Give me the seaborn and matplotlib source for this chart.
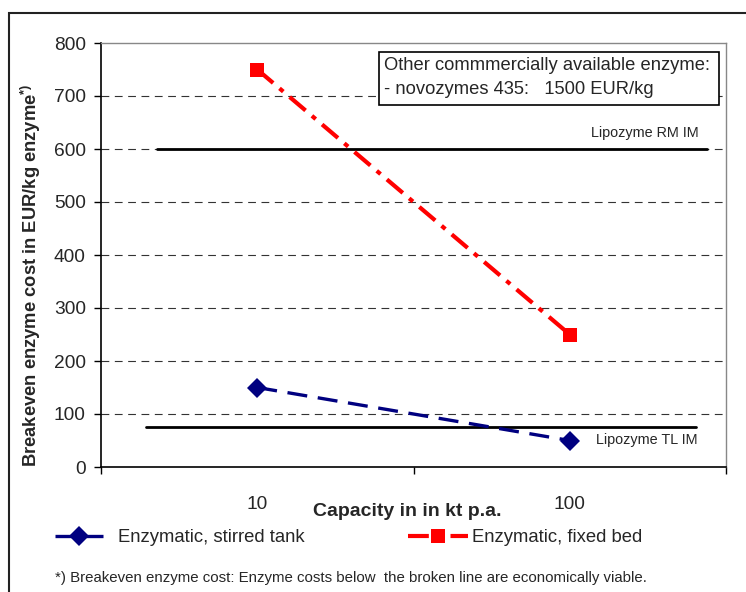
import matplotlib
matplotlib.use("Agg")
import matplotlib.pyplot as plt
import seaborn as sns
import pandas as pd
import numpy as np
from matplotlib.lines import Line2D
from matplotlib.patches import Rectangle

sns.set_theme(style="white")
plt.rcParams['font.family'] = ['Liberation Sans', 'DejaVu Sans']
plt.rcParams['mathtext.fontset'] = 'custom'
plt.rcParams['mathtext.rm'] = 'Liberation Sans'
plt.rcParams['mathtext.bf'] = 'Liberation Sans:bold'

# ---- data ----
categories = ["10", "100"]
stirred_tank = [150, 50]
fixed_bed = [750, 250]
lipozyme_rm = 600
lipozyme_tl = 75
yticks = [0, 100, 200, 300, 400, 500, 600, 700, 800]

xpos = np.arange(len(categories))
df = pd.DataFrame({
    "x": np.concatenate([xpos, xpos]),
    "y": stirred_tank + fixed_bed,
    "series": ["Enzymatic, stirred tank"] * 2 + ["Enzymatic, fixed bed"] * 2,
})

BLUE_LS = (0, (6, 3.2))
RED_LS = (0, (5, 2, 1.2, 2))

fig = plt.figure(figsize=(7.46, 5.92), dpi=100)
ax = fig.add_axes([101/746, 1-467/592, 625/746, 424/592])

# grid lines
for v in yticks[1:-1]:
    ax.axhline(v, color="#333333", lw=0.8, ls=(0, (7, 5)), zorder=1)

# reference lines
ax.plot([-0.32, 1.44], [lipozyme_rm, lipozyme_rm], color="black", lw=2, zorder=2)
ax.plot([-0.356, 1.404], [lipozyme_tl, lipozyme_tl], color="black", lw=2, zorder=2)
ax.text(1.412, 630, "Lipozyme RM IM", ha="right", va="center", fontsize=10.4)
ax.text(1.085, 51, "Lipozyme TL IM", ha="left", va="center", fontsize=10.4)

sub1 = df[df.series == "Enzymatic, stirred tank"]
sub2 = df[df.series == "Enzymatic, fixed bed"]
sns.lineplot(data=sub1, x="x", y="y", ax=ax, color="#000080", lw=2.4,
             marker="D", markersize=10.5, markeredgewidth=0, zorder=3)
ax.lines[-1].set_linestyle(BLUE_LS)
sns.lineplot(data=sub2, x="x", y="y", ax=ax, color="#FF0000", lw=3,
             marker="s", markersize=10, markeredgewidth=0, zorder=3)
ax.lines[-1].set_linestyle(RED_LS)

ax.set_xlim(-0.5, 1.5)
ax.set_ylim(0, 800)
ax.set_yticks(yticks)
ax.set_yticklabels([str(v) for v in yticks], fontsize=13.8)
ax.set_xticks(xpos)
ax.set_xticklabels(categories, fontsize=13.8)
ax.set_xticks([-0.5, 0.5, 1.5], minor=True)
ax.tick_params(axis="x", which="major", length=0, pad=21)
ax.tick_params(axis="x", which="minor", length=5, width=1, color="black", direction="out", bottom=True)
ax.tick_params(axis="y", which="major", length=5, width=1, color="black", direction="out", left=True, pad=6)

ax.set_xlabel("Capacity in in kt p.a.", fontsize=14, fontweight="bold")
ax.xaxis.set_label_coords((407 - 101) / 625, -(511 - 467) / 424)
ax.xaxis.label.set_va("center")
ax.set_ylabel(r"Breakeven enzyme cost in EUR/kg enzyme$^{\mathbf{*)}}$", fontsize=13.2,
              fontweight="bold")
ax.yaxis.set_label_coords((31 - 101) / 625, (467 - 275) / 424)
ax.yaxis.label.set_va("center")

for s in ["left", "bottom"]:
    ax.spines[s].set_color("black")
    ax.spines[s].set_linewidth(1.2)
for s in ["top", "right"]:
    ax.spines[s].set_color("#888888")
    ax.spines[s].set_linewidth(1)
ax.grid(False)

# annotation box
ax.add_patch(Rectangle((0.391, 683), 1.478 - 0.391, 100, fill=True, fc="white",
                       ec="black", lw=1.2, zorder=5))
ax.text(0.405, 758, "Other commmercially available enzyme:", ha="left", va="center",
        fontsize=13.2, zorder=6)
ax.text(0.405, 713, "- novozymes 435:   1500 EUR/kg", ha="left", va="center",
        fontsize=13.2, zorder=6)

# legend
h1 = Line2D([], [], color="#000080", lw=2.4, ls=BLUE_LS, marker="D", markersize=10, markeredgewidth=0)
h2 = Line2D([], [], color="#FF0000", lw=3, ls=RED_LS, marker="s", markersize=9.5, markeredgewidth=0)
if ax.get_legend():
    ax.get_legend().remove()
fig.legend([h1], ["Enzymatic, stirred tank"],
           loc="center left", bbox_to_anchor=(46/746, 1-538/592), frameon=False,
           fontsize=13.3, handlelength=2.6, handletextpad=0.8, borderpad=0)
fig.legend([h2], ["Enzymatic, fixed bed"],
           loc="center left", bbox_to_anchor=(399/746, 1-538/592), frameon=False,
           fontsize=13.3, handlelength=3.25, handletextpad=0.22, borderpad=0)

fig.text(55/746, 1-578/592, "*) Breakeven enzyme cost: Enzyme costs below  the broken line are economically viable.",
         ha="left", va="center", fontsize=10.8)

# figure frame
fig.patches.append(Rectangle((9/746, -0.2), 1.2, 1.2 - 13/592, transform=fig.transFigure,
                             fill=False, ec="#222222", lw=1.5))

fig.savefig("out.png", dpi=100)
